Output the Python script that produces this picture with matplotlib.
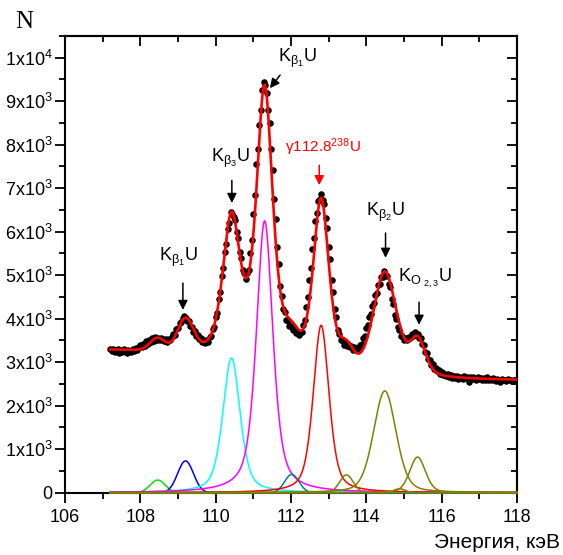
import numpy as np
import matplotlib
matplotlib.use("Agg")
import matplotlib.pyplot as plt
from matplotlib.ticker import MultipleLocator, FuncFormatter

plt.rcParams['font.family'] = ['Liberation Sans', 'DejaVu Sans']
plt.rcParams['mathtext.fontset'] = 'custom'
plt.rcParams['mathtext.rm'] = 'Liberation Sans'
plt.rcParams['mathtext.it'] = 'Liberation Sans'
plt.rcParams['mathtext.bf'] = 'Liberation Sans:bold'

# ----------------------------------------------------------------------------
# Data: measured spectrum (channel energies 107.20 keV + 0.04 keV steps)
# ----------------------------------------------------------------------------
E_START = 107.20     # keV, first channel
E_STEP = 0.04        # keV per channel
COUNTS = [
    3310, 3250, 3300, 3230, 3280, 3310, 3220, 3270, 3240, 3300,
    3260, 3210, 3290, 3250, 3230, 3300, 3250, 3330, 3290, 3350,
    3390, 3340, 3430, 3380, 3480, 3420, 3510, 3470, 3550, 3490,
    3570, 3510, 3560, 3500, 3550, 3540, 3480, 3530, 3470, 3540,
    3510, 3590, 3640, 3630, 3760, 3780, 3910, 3920, 4020, 4060,
    4010, 3940, 3950, 3830, 3820, 3700, 3720, 3600, 3620, 3530,
    3560, 3470, 3510, 3440, 3500, 3470, 3590, 3600, 3760, 3800,
    4030, 4130, 4450, 4610, 4980, 5160, 5540, 5710, 6060, 6190,
    6460, 6400, 6350, 6280, 5990, 5850, 5540, 5390, 5120, 5060,
    4920, 5040, 5110, 5500, 5800, 6410, 6850, 7560, 7900, 8460,
    8800, 9260, 9440, 9380, 9200, 8800, 8510, 7900, 7410, 6750,
    6300, 5660, 5250, 4760, 4530, 4220, 4150, 3960, 3950, 3830,
    3840, 3740, 3760, 3670, 3690, 3620, 3680, 3700, 3860, 3970,
    4270, 4490, 4890, 5160, 5610, 5860, 6250, 6430, 6700, 6760,
    6870, 6740, 6640, 6310, 6090, 5660, 5370, 4900, 4620, 4220,
    4030, 3750, 3660, 3500, 3500, 3400, 3450, 3370, 3420, 3340,
    3370, 3290, 3340, 3270, 3320, 3290, 3390, 3410, 3560, 3600,
    3790, 3850, 4050, 4110, 4300, 4350, 4540, 4590, 4770, 4800,
    4960, 4970, 5100, 5000, 4990, 4790, 4720, 4460, 4340, 4080,
    4000, 3800, 3750, 3600, 3600, 3510, 3560, 3520, 3590, 3560,
    3640, 3610, 3690, 3630, 3660, 3560, 3560, 3420, 3390, 3240,
    3210, 3070, 3060, 2930, 2950, 2840, 2870, 2790, 2810, 2730,
    2770, 2700, 2740, 2680, 2720, 2660, 2700, 2640, 2690, 2630,
    2680, 2620, 2670, 2640, 2610, 2680, 2630, 2660, 2550, 2650,
    2610, 2660, 2620, 2600, 2650, 2610, 2640, 2590, 2630, 2600,
    2650, 2590, 2620, 2580, 2630, 2600, 2570, 2620, 2590, 2540,
    2610, 2580, 2600, 2570, 2610, 2580, 2600, 2570, 2600, 2580,
    2590,
]

# Fitted peak components (pseudo-Voigt): centre keV, height, sigma keV, Lorentz fraction
PEAK_CENTER = [108.46, 109.20, 110.42, 111.30, 112.02, 112.80, 113.47, 114.49, 114.88, 115.36]
PEAK_HEIGHT = [290, 730, 3100, 6250, 420, 3850, 410, 2340, 90, 820]
PEAK_SIGMA = [0.20, 0.21, 0.23, 0.22, 0.19, 0.21, 0.18, 0.30, 0.15, 0.21]
PEAK_LORENTZ = [0.0, 0.0, 0.5, 0.6, 0.0, 0.5, 0.0, 0.3, 0.0, 0.3]
PEAK_COLOR = ["#00e400", "#0000ff", "#00ffff", "#ff00ff", "#008080",
              "#ff0000", "#808000", "#808000", "#808000", "#808000"]

# Step background of the fit
BG_LEFT, BG_RIGHT, BG_MID, BG_WIDTH = 3320, 2570, 111.2, 1.6

# Peak labels: text, text position, arrow tail, arrow tip, colour, font size
LABELS = [
    (r"K$_{\beta_1}$U", (109.00, 5400), (109.13, 4820), (109.13, 4200), "k", 13),
    (r"K$_{\beta_3}$U", (110.38, 7690), (110.43, 7180), (110.43, 6660), "k", 13),
    (r"K$_{\beta_1}$U", (112.16, 9990), (111.71, 9600), (111.44, 9300), "k", 13),
    (r"$\gamma$112.8$^{238}$U", (112.85, 7940), (112.75, 7530), (112.75, 7070), "#ff0000", 11),
    (r"K$_{\beta_2}$U", (114.50, 6450), (114.51, 5970), (114.51, 5400), "k", 13),
    (r"K$_{O\ _{2,3}}$U", (115.56, 4930), (115.40, 4380), (115.40, 3860), "k", 13),
]


def pvoigt(x, c, h, s, eta):
    g = np.exp(-0.5 * ((x - c) / s) ** 2)
    hw = s * np.sqrt(2 * np.log(2))
    lor = 1.0 / (1.0 + ((x - c) / hw) ** 2)
    return h * ((1 - eta) * g + eta * lor)


def y_fmt(v, pos):
    if v <= 0:
        return "0"
    e = int(np.floor(np.log10(v) + 1e-9))
    m = v / 10 ** e
    return r"$\mathregular{%gx10^{%d}}$" % (m, e)


counts = np.array(COUNTS, dtype=float)
energy = E_START + E_STEP * np.arange(counts.size)

xf = np.linspace(energy[0], energy[-1], 1500)
comps = [pvoigt(xf, c, h, s, eta) for c, h, s, eta in
         zip(PEAK_CENTER, PEAK_HEIGHT, PEAK_SIGMA, PEAK_LORENTZ)]
bg = BG_RIGHT + (BG_LEFT - BG_RIGHT) / (1 + np.exp((xf - BG_MID) / BG_WIDTH))
fit = bg + np.sum(comps, axis=0)

fig = plt.figure(figsize=(5.63, 5.55), dpi=100)
ax = fig.add_axes([65 / 563, 1 - 492.7 / 555, (517 - 65) / 563, (492.7 - 36) / 555])

for yc, col in zip(comps, PEAK_COLOR):
    ax.plot(xf, yc, color=col, lw=1.1, zorder=3, clip_on=False)
ax.scatter(energy, counts, s=22, c="k", linewidths=0, zorder=4)
ax.plot(xf, fit, color="#ff0000", lw=1.9, zorder=5)

for txt, tpos, tail, tip, col, fs in LABELS:
    ax.text(*tpos, txt, color=col, fontsize=fs, ha="center", va="center")
    ax.annotate("", xy=tip, xytext=tail,
                arrowprops=dict(arrowstyle="-|>", color=col, lw=1.1,
                                mutation_scale=14, shrinkA=0, shrinkB=0))

ax.set_xlim(106, 118)
ax.set_ylim(0, 10500)
ax.xaxis.set_major_locator(MultipleLocator(2))
ax.xaxis.set_minor_locator(MultipleLocator(1))
ax.yaxis.set_major_locator(MultipleLocator(1000))
ax.yaxis.set_minor_locator(MultipleLocator(500))
ax.yaxis.set_major_formatter(FuncFormatter(y_fmt))
ax.tick_params(which="both", direction="out", width=1.3, labelsize=13)
ax.tick_params(which="major", length=7)
ax.tick_params(which="minor", length=4)
ax.tick_params(axis="x", pad=5)
ax.tick_params(axis="y", pad=2)
for sp in ax.spines.values():
    sp.set_linewidth(1.5)

top = ax.secondary_xaxis("top")
top.xaxis.set_major_locator(MultipleLocator(2))
top.xaxis.set_minor_locator(MultipleLocator(1))
top.tick_params(which="both", direction="in", width=1.3, labeltop=False)
top.tick_params(which="major", length=7)
top.tick_params(which="minor", length=4)
top.spines["top"].set_linewidth(1.5)

right = ax.secondary_yaxis("right")
right.yaxis.set_major_locator(MultipleLocator(1000))
right.yaxis.set_minor_locator(MultipleLocator(500))
right.tick_params(which="both", direction="in", width=1.3, labelright=False)
right.tick_params(which="major", length=7)
right.tick_params(which="minor", length=4)
right.spines["right"].set_linewidth(1.5)

fig.text(24 / 563, 1 - 22 / 555, "N", family="Liberation Serif", fontsize=18,
         ha="center", va="center")
fig.text(560 / 563, 1 - 548.5 / 555, "Энергия, кэВ", fontsize=15,
         ha="right", va="baseline")

fig.savefig("out.png", dpi=100)
